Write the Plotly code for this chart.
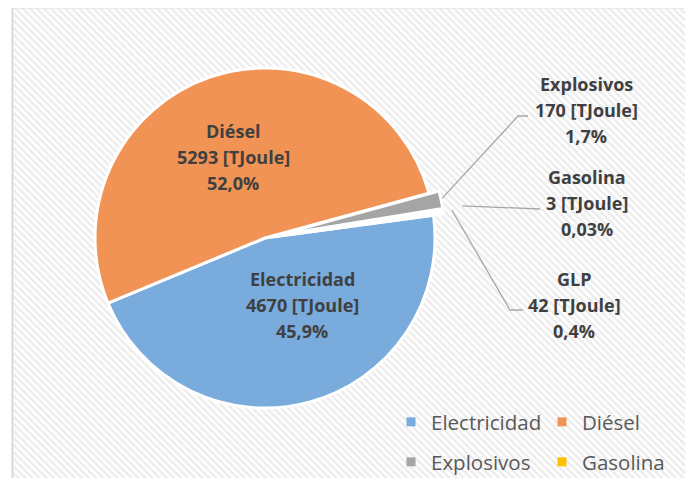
import math
import plotly.graph_objects as go

# ---------------- data ----------------
categories = ["Electricidad", "Diésel", "Explosivos", "Gasolina", "GLP"]
energy_tj = [4670, 5293, 170, 3, 42]
pct_decimals = [1, 1, 1, 2, 1]
unit_label = "[TJoule]"

# ---------------- style / layout ----------------
colors = ["#79ACDD", "#F09354", "#A5A5A5", "#FFC000", "#FFFFFF"]
pulls = [0, 0, 0.06, 0.06, 0.06]
OFF = 8                              # page body margin (px)
W, H = 685, 470                      # figure size
CX, CY, R = 265, 238, 170            # pie centre / radius (page px)
ROT = 82.3                           # start angle of first slice (deg, clockwise from 12 o'clock)
LABEL_FONT = dict(family="Open Sans", size=18, color="#404040")
LEGEND_FONT = dict(family="Open Sans", size=20.5, color="#595959")
LINE_GAP = 26
# label anchor (centre x, first line y) in page px
label_pos = [(302, 279), (233, 131), (586, 84), (587, 177), (574, 279)]
# leader lines for small slices: radial start distance and elbow points (page px)
leader_start_r = {2: 180, 3: 200, 4: 189}
leader_path = {2: [(518, 116), (528, 116)], 3: [(540, 209)], 4: [(510, 310), (523, 310)]}
legend_ids = ["legend", "legend", "legend2", "legend2", None]
legend_rows = {"legend": 422, "legend2": 462}
LEGEND_LEFT = 391

total = sum(energy_tj)


def pct_str(v, d):
    return f"{100 * v / total:.{d}f}%".replace(".", ",")


def px_x(p):
    return (p - OFF) / W


def px_y(p):
    return (OFF + H - p) / H


fig = go.Figure()

# hatched background
fig.add_trace(go.Scatter(
    x=[13.5, 720, 720, 13.5, 13.5], y=[8.5, 8.5, 500, 500, 8.5],
    mode="lines", line=dict(width=0), fill="toself", fillcolor="white",
    fillpattern=dict(shape="\\", fgcolor="#D9D9D9", bgcolor="white", size=5, solidity=0.5),
    hoverinfo="skip", showlegend=False))

# pie
max_pull = max(pulls)
half = R * (1 + max_pull)
dom_x = [px_x(CX - half), px_x(CX + half)]
dom_y = [px_y(CY + half), px_y(CY - half)]
fig.add_trace(go.Pie(
    labels=categories, values=energy_tj, sort=False, direction="clockwise",
    rotation=ROT, pull=pulls, textinfo="none", showlegend=False,
    marker=dict(colors=colors, line=dict(color="white", width=3)),
    domain=dict(x=dom_x, y=dom_y)))

# leader lines (start point derived from slice mid-angle)
cum = 0
mids = []
for v in energy_tj:
    mids.append(ROT + 360 * (cum + v / 2) / total)
    cum += v
for i, rr in leader_start_r.items():
    a = math.radians(mids[i])
    sx, sy = CX + rr * math.sin(a), CY - rr * math.cos(a)
    pts = [(sx, sy)] + leader_path[i]
    fig.add_trace(go.Scatter(x=[p[0] for p in pts], y=[p[1] for p in pts], mode="lines",
                             line=dict(color="#A6A6A6", width=1.3), hoverinfo="skip",
                             showlegend=False))

# data labels
annotations = []
for i, (name, v) in enumerate(zip(categories, energy_tj)):
    lx, ly = label_pos[i]
    lines = [name, f"{v} {unit_label}", pct_str(v, pct_decimals[i])]
    for k, t in enumerate(lines):
        annotations.append(dict(x=lx, y=ly + k * LINE_GAP, xref="x", yref="y", text=f"<b>{t}</b>",
                                showarrow=False, xanchor="center", yanchor="middle",
                                font=LABEL_FONT))

# legend entries (the last row of the original legend is cut off by the frame)
for i, name in enumerate(categories):
    if legend_ids[i] is None:
        continue
    fig.add_trace(go.Scatter(x=[None], y=[None], mode="markers", name=name,
                             marker=dict(symbol="square", size=9, color=colors[i]),
                             legend=legend_ids[i], showlegend=True))

legend_common = dict(orientation="h", xanchor="left", yanchor="middle", x=px_x(LEGEND_LEFT),
                     entrywidth=106, font=LEGEND_FONT, bgcolor="rgba(0,0,0,0)",
                     itemclick=False, itemdoubleclick=False)
legends = {lid: dict(legend_common, y=px_y(yy)) for lid, yy in legend_rows.items()}

fig.update_layout(
    width=W, height=H, margin=dict(l=0, r=0, t=0, b=0, autoexpand=False),
    paper_bgcolor="white", plot_bgcolor="white",
    xaxis=dict(range=[OFF, OFF + W], visible=False, fixedrange=True),
    yaxis=dict(range=[OFF + H, OFF], visible=False, fixedrange=True),
    annotations=annotations,
    shapes=[dict(type="rect", xref="x", yref="y", x0=12.5, y0=7.5, x1=730, y1=520,
                 line=dict(color="#D9D9D9", width=2), layer="above")],
    **legends)

fig.write_html("out.html")
